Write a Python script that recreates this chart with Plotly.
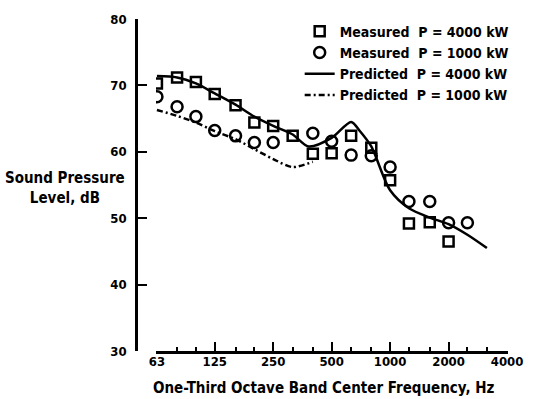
import plotly.graph_objects as go

# One-third octave band centre frequencies (Hz)
bands = [63, 80, 100, 125, 160, 200, 250, 315, 400, 500, 630, 800,
         1000, 1250, 1600, 2000, 2500, 3150, 4000]
octave_ticks = [63, 125, 250, 500, 1000, 2000, 4000]
octave_labels = ["63", "125", "250", "500", "1000", "2000", "4000"]
y_ticks = [30, 40, 50, 60, 70, 80]

# Measured, P = 4000 kW (squares)
meas4000_f = [63, 80, 100, 125, 160, 200, 250, 315, 400, 500, 630, 800,
              1000, 1250, 1600, 2000]
meas4000_db = [70.3, 71.2, 70.5, 68.7, 67.0, 64.4, 63.9, 62.4, 59.7, 59.8,
               62.4, 60.6, 55.7, 49.2, 49.4, 46.5]

# Measured, P = 1000 kW (circles)
meas1000_f = [63, 80, 100, 125, 160, 200, 250, 400, 500, 630, 800,
              1000, 1250, 1600, 2000, 2500]
meas1000_db = [68.3, 66.8, 65.3, 63.2, 62.4, 61.4, 61.4, 62.8, 61.6, 59.5,
               59.4, 57.7, 52.5, 52.5, 49.3, 49.3]

# Predicted, P = 4000 kW (solid)
pred4000_f = [63, 80, 100, 125, 160, 200, 250, 315, 380, 500, 630, 700,
              800, 1000, 1250, 1600, 2000, 2500, 3150]
pred4000_db = [71.4, 71.2, 70.3, 68.8, 67.1, 65.3, 63.9, 62.6, 60.8, 62.1,
               64.5, 63.1, 60.8, 54.2, 51.5, 50.1, 49.1, 47.5, 45.5]

# Predicted, P = 1000 kW (dashed)
pred1000_f = [63, 80, 100, 125, 160, 200, 250, 315, 400]
pred1000_db = [66.3, 65.4, 64.4, 63.1, 61.9, 60.4, 58.9, 57.7, 58.5]

FONT = "DejaVu Sans Condensed, Liberation Sans Narrow, Arial Narrow, sans-serif"
XRANGE = [1.795, 3.607]
XDOMAIN = [0.054, 1]

fig = go.Figure()
fig.add_trace(go.Scatter(
    x=meas4000_f, y=meas4000_db, mode="markers", name="Measured  P = 4000 kW",
    marker=dict(symbol="square-open", size=10, color="black", line=dict(width=2.5, color="black"))))
fig.add_trace(go.Scatter(
    x=meas1000_f, y=meas1000_db, mode="markers", name="Measured  P = 1000 kW",
    marker=dict(symbol="circle-open", size=11, color="black", line=dict(width=2.5, color="black"))))
fig.add_trace(go.Scatter(
    x=pred4000_f, y=pred4000_db, mode="lines", name="Predicted  P = 4000 kW",
    line=dict(color="black", width=2.5, shape="spline", smoothing=0.8)))
fig.add_trace(go.Scatter(
    x=pred1000_f, y=pred1000_db, mode="lines", name="Predicted  P = 1000 kW",
    line=dict(color="black", width=2.5, dash="6px,3px,2px,3px", shape="spline", smoothing=0.8)))
# invisible helper trace so the minor-tick axis is drawn
fig.add_trace(go.Scatter(
    x=[bands[0], bands[-1]], y=[None, None], xaxis="x2", mode="lines",
    showlegend=False, hoverinfo="skip"))

fig.update_layout(
    width=543, height=399,
    margin=dict(l=136, r=35, t=15, b=48),
    paper_bgcolor="white", plot_bgcolor="white",
    font=dict(family=FONT, size=13, color="black", weight="bold"),
    showlegend=True,
    legend=dict(x=0.44, y=1.01, xanchor="left", yanchor="top",
                bgcolor="rgba(0,0,0,0)", font=dict(size=14, family=FONT, weight="bold"),
                tracegroupgap=0, itemwidth=30),
    xaxis=dict(
        type="log", range=XRANGE, domain=XDOMAIN,
        showline=True, linecolor="black", linewidth=2.5,
        showgrid=False, zeroline=False,
        tickmode="array", tickvals=octave_ticks, ticktext=octave_labels,
        ticks="inside", ticklen=9, tickwidth=2, tickcolor="black",
        tickfont=dict(size=13, family=FONT, weight="bold"),
        ticklabelstandoff=-3,
    ),
    xaxis2=dict(
        type="log", range=XRANGE, domain=XDOMAIN, overlaying="x", anchor="y",
        side="bottom", showline=False, showgrid=False, zeroline=False,
        tickmode="array", tickvals=bands, showticklabels=False,
        ticks="inside", ticklen=4, tickwidth=2, tickcolor="black",
    ),
    yaxis=dict(
        range=[30, 80], anchor="free", position=0,
        showline=True, linecolor="black", linewidth=2.5,
        showgrid=False, zeroline=False,
        tickmode="array", tickvals=y_ticks,
        ticks="inside", ticklen=9, tickwidth=2, tickcolor="black",
        tickfont=dict(size=13, family=FONT, weight="bold"),
        ticklabelstandoff=6,
    ),
)

fig.add_annotation(
    text="Sound Pressure<br>Level, dB", xref="paper", yref="paper",
    x=-0.19, y=0.49, xanchor="center", yanchor="middle", showarrow=False,
    align="center", font=dict(size=15, family=FONT, weight="bold"))
fig.add_annotation(
    text="One-Third Octave Band Center Frequency, Hz", xref="paper", yref="paper",
    x=0.505, y=-0.11, xanchor="center", yanchor="middle", showarrow=False,
    font=dict(size=15, family=FONT, weight="bold"))

fig.write_html("out.html")
